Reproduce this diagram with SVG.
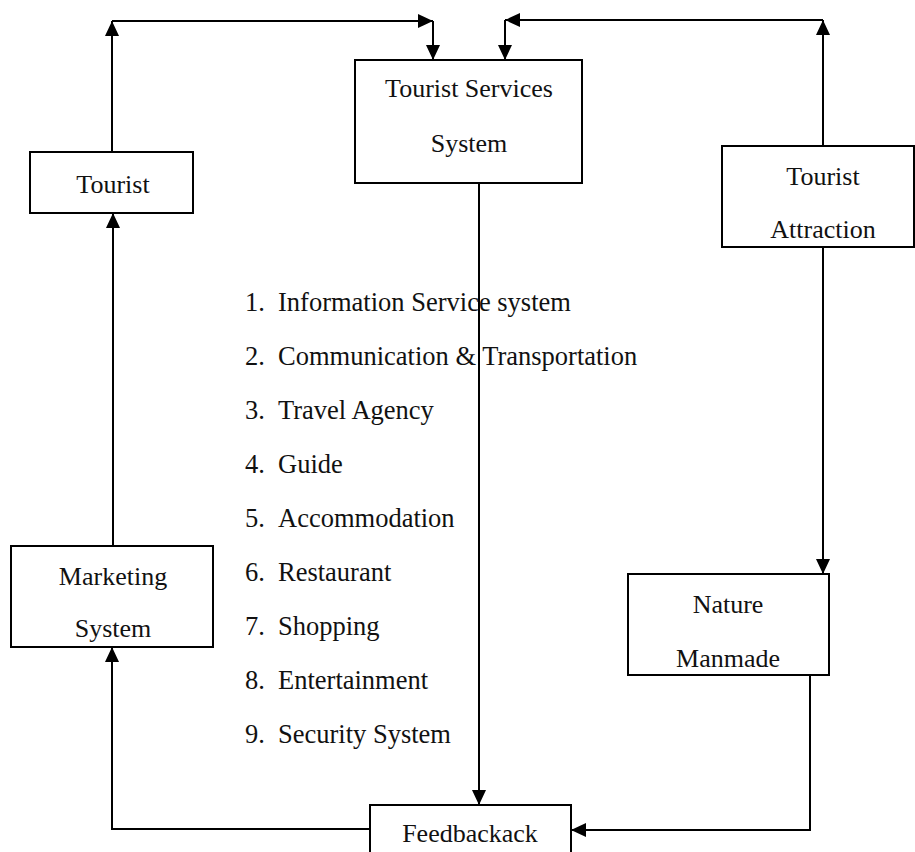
<svg xmlns="http://www.w3.org/2000/svg" width="915" height="852" viewBox="0 0 915 852">
<style>
.box{fill:#fff;stroke:#000;stroke-width:2}
.t{font-family:"Liberation Serif","Times New Roman",serif;font-size:26px;fill:#111}
.l{font-size:26.5px}
.c{text-anchor:middle}
.ln{fill:none;stroke:#000;stroke-width:2}
</style>
<defs>
<marker id="ah" viewBox="0 0 15 14" refX="15" refY="7" markerWidth="15" markerHeight="14" markerUnits="userSpaceOnUse" orient="auto">
<path d="M0,0 L15,7 L0,14 Z" fill="#000"/>
</marker>
</defs>
<rect width="915" height="852" fill="#fff"/>
<g id="connectors">
<line class="ln" x1="112" y1="152" x2="112" y2="21" marker-end="url(#ah)"/>
<line class="ln" x1="112" y1="21" x2="433" y2="21" marker-end="url(#ah)"/>
<line class="ln" x1="433" y1="21" x2="433" y2="60" marker-end="url(#ah)"/>
<line class="ln" x1="823" y1="146" x2="823" y2="20" marker-end="url(#ah)"/>
<line class="ln" x1="823" y1="20" x2="505" y2="20" marker-end="url(#ah)"/>
<line class="ln" x1="505" y1="20" x2="505" y2="60" marker-end="url(#ah)"/>
<line class="ln" x1="479" y1="183" x2="479" y2="805" marker-end="url(#ah)"/>
<line class="ln" x1="823" y1="247" x2="823" y2="574" marker-end="url(#ah)"/>
<polyline class="ln" points="810,666 810,830 571,830" marker-end="url(#ah)"/>
<polyline class="ln" points="370,829 112,829 112,647" marker-end="url(#ah)"/>
<line class="ln" x1="113" y1="546" x2="113" y2="213" marker-end="url(#ah)"/>
</g>
<g id="tourist">
<rect class="box" x="30" y="152" width="163" height="61"/>
<text class="t c" x="113" y="193">Tourist</text>
</g>
<g id="tss">
<rect class="box" x="355" y="60" width="227" height="123"/>
<text class="t c" x="469" y="97">Tourist Services</text>
<text class="t c" x="469" y="152">System</text>
</g>
<g id="attraction">
<rect class="box" x="722" y="146" width="192" height="101"/>
<text class="t c" x="823" y="185">Tourist</text>
<text class="t c" x="823" y="238">Attraction</text>
</g>
<g id="marketing">
<rect class="box" x="11" y="546" width="202" height="101"/>
<text class="t c" x="113" y="585">Marketing</text>
<text class="t c" x="113" y="637">System</text>
</g>
<g id="nature">
<rect class="box" x="628" y="574" width="201" height="101"/>
<text class="t c" x="728" y="613">Nature</text>
<text class="t c" x="728" y="667">Manmade</text>
</g>
<g id="feedback">
<rect class="box" x="370" y="805" width="201" height="70"/>
<text class="t c" x="470" y="842">Feedbackack</text>
</g>
<g id="list">
<text class="t l" x="245" y="311">1.</text><text class="t l" x="278" y="311">Information Service system</text>
<text class="t l" x="245" y="365">2.</text><text class="t l" x="278" y="365">Communication &amp; Transportation</text>
<text class="t l" x="245" y="419">3.</text><text class="t l" x="278" y="419">Travel Agency</text>
<text class="t l" x="245" y="473">4.</text><text class="t l" x="278" y="473">Guide</text>
<text class="t l" x="245" y="527">5.</text><text class="t l" x="278" y="527">Accommodation</text>
<text class="t l" x="245" y="581">6.</text><text class="t l" x="278" y="581">Restaurant</text>
<text class="t l" x="245" y="635">7.</text><text class="t l" x="278" y="635">Shopping</text>
<text class="t l" x="245" y="689">8.</text><text class="t l" x="278" y="689">Entertainment</text>
<text class="t l" x="245" y="743">9.</text><text class="t l" x="278" y="743">Security System</text>
</g>
</svg>
